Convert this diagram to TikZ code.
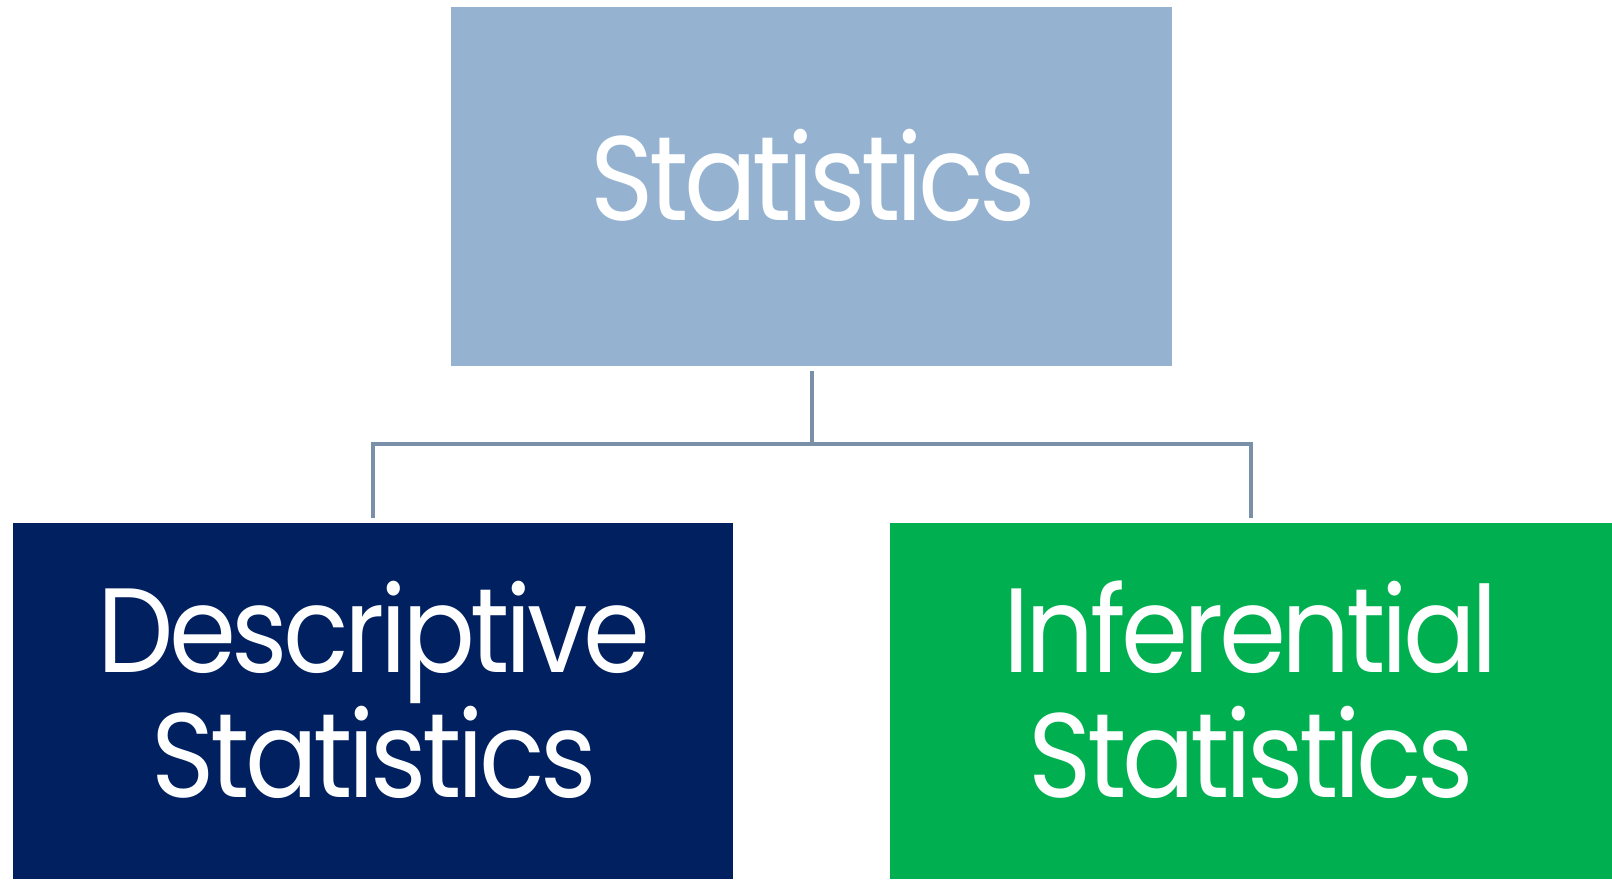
\documentclass[tikz,border=0pt]{standalone}
\usepackage{fontspec}
\setmainfont{Poppins}[FakeStretch=0.9, LetterSpace=-3.8]
\definecolor{topfill}{HTML}{95B3D1}
\definecolor{navyfill}{HTML}{002060}
\definecolor{greenfill}{HTML}{00B050}
\definecolor{linkgray}{HTML}{7A90A8}
\begin{document}
\begin{tikzpicture}[x=1pt,y=1pt,
  box/.style={rectangle, inner sep=0pt, outer sep=0pt},
  label/.style={inner sep=0pt, anchor=base, text=white, font=\fontsize{120}{125}\selectfont},
  link/.style={draw=linkgray, line width=4pt, shorten <=5pt, shorten >=5pt}]
  \useasboundingbox (0,0) rectangle (1612,879);
  % boxes
  \node[box, fill=topfill, minimum width=721pt, minimum height=358.5pt] (stat) at (811.5,692.25) {};
  \node[box, fill=navyfill, minimum width=720pt, minimum height=356pt] (desc) at (373,178) {};
  \node[box, fill=greenfill, minimum width=722pt, minimum height=356pt] (infer) at (1251,178) {};
  % labels
  \node[label] (statT) at (813,658) {Statistics};
  \node[label] (descA) at (374,206.5) {Descriptive};
  \node[label] (descB) at (374,82) {Statistics};
  \node[label] (inferA) at (1251,206.5) {Inferential};
  \node[label] (inferB) at (1251,82) {Statistics};
  % connectors
  \draw[link] (stat.south) -- ++(0,-78) -| (desc.north);
  \draw[link] (stat.south) -- ++(0,-78) -| (infer.north);
\end{tikzpicture}
\end{document}
